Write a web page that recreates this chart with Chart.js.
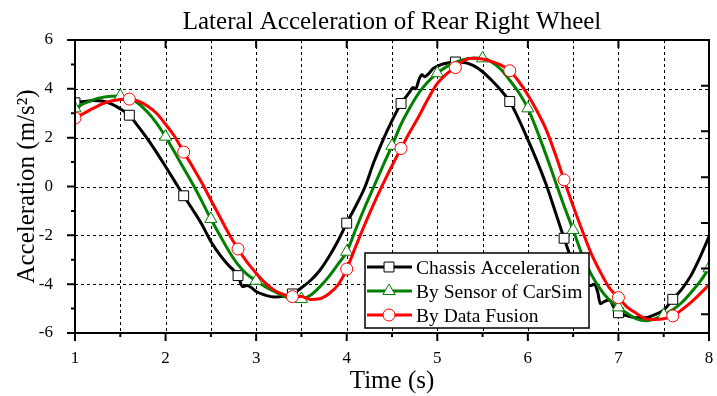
<!DOCTYPE html>
<html lang="en">
<head>
    <meta charset="UTF-8">
    <title>Lateral Acceleration of Rear Right Wheel</title>
    <script src="https://cdn.jsdelivr.net/npm/chart.js"></script>
    <style>
        html, body { margin: 0; padding: 0; background: #fff; }
    </style>
</head>
<body>
    <canvas id="accChart" width="717" height="396"></canvas>

    <script>
        // Chassis acceleration (black, squares)
        const chassisTime = [1.0, 1.1, 1.2, 1.3, 1.4, 1.5, 1.6, 1.7, 1.8, 1.9, 2.0, 2.1, 2.2, 2.3, 2.4, 2.5, 2.6, 2.7, 2.8,
            2.85, 2.9, 2.95, 3.0, 3.1, 3.2, 3.3, 3.4, 3.5, 3.6, 3.7, 3.8, 3.9, 4.0, 4.1, 4.2, 4.3, 4.4, 4.5, 4.6,
            4.65, 4.7, 4.73, 4.76, 4.8, 4.83, 4.86, 4.9, 4.95, 5.0, 5.05, 5.1, 5.2, 5.3, 5.4, 5.5, 5.6, 5.7, 5.8,
            5.9, 6.0, 6.1, 6.2, 6.3, 6.4, 6.5, 6.6, 6.65, 6.7, 6.73, 6.77, 6.8, 6.85, 6.9, 6.95, 7.0, 7.1, 7.2,
            7.3, 7.4, 7.5, 7.6, 7.7, 7.8, 7.9, 8.0];
        const chassisAcc = [3.43, 3.48, 3.52, 3.5, 3.38, 3.18, 2.92, 2.45, 1.95, 1.4, 0.82, 0.22, -0.38, -0.95, -1.55, -2.25, -2.8, -3.25, -3.65,
            -4.1, -4.05, -4.15, -4.3, -4.45, -4.53, -4.5, -4.4, -4.15, -3.85, -3.45, -2.9, -2.25, -1.5, -0.8, -0.03, 1.0, 1.9, 2.7, 3.4,
            3.65, 3.9, 4.05, 4.0, 4.4, 4.58, 4.5, 4.6, 4.82, 4.92, 5.0, 5.05, 5.1, 5.08, 4.95, 4.7, 4.35, 3.95, 3.48,
            2.75, 1.92, 1.05, 0.1, -1.0, -2.12, -3.15, -3.85, -4.05, -4.05, -4.0, -4.3, -4.8, -4.7, -4.65, -4.95, -5.17, -5.3, -5.38,
            -5.38, -5.25, -5.06, -4.62, -4.2, -3.65, -2.9, -2.05];
        const chassisMarks = [1.0, 1.6, 2.2, 2.8, 3.4, 4.0, 4.6, 5.2, 5.8, 6.4, 7.0, 7.6];

        // By sensor of CarSim (green, triangles)
        const sensorTime = [1.0, 1.1, 1.2, 1.3, 1.4, 1.5, 1.6, 1.7, 1.8, 1.9, 2.0, 2.1, 2.2, 2.3, 2.4, 2.5, 2.6, 2.7, 2.8, 2.9,
            3.0, 3.1, 3.2, 3.3, 3.4, 3.5, 3.6, 3.7, 3.8, 3.9, 4.0, 4.1, 4.2, 4.3, 4.4, 4.5, 4.6, 4.7, 4.8, 4.9,
            5.0, 5.1, 5.2, 5.3, 5.4, 5.5, 5.6, 5.7, 5.8, 5.9, 6.0, 6.1, 6.2, 6.3, 6.4, 6.5, 6.6, 6.7, 6.8, 6.9,
            7.0, 7.1, 7.2, 7.3, 7.4, 7.5, 7.6, 7.7, 7.8, 7.9, 8.0];
        const sensorAcc = [3.2, 3.4, 3.55, 3.65, 3.7, 3.71, 3.62, 3.4, 3.05, 2.6,
            2.04, 1.4, 0.75, 0.1, -0.6, -1.33, -2.0, -2.65, -3.2, -3.6,
            -3.86, -4.1, -4.3, -4.48, -4.6, -4.61, -4.45, -4.12, -3.7, -3.2,
            -2.67, -1.75, -0.85, 0.0, 0.85, 1.67, 2.55, 3.25, 3.85, 4.3,
            4.64, 4.9, 5.08, 5.2, 5.26, 5.25, 5.1, 4.8, 4.35, 3.85,
            3.2, 2.3, 1.3, 0.25, -0.8, -1.78, -2.8, -3.6, -4.2, -4.65,
            -4.95, -5.2, -5.42, -5.5, -5.42, -5.26, -5.05, -4.75, -4.35, -3.9, -3.35];
        const sensorMarks = [1.0, 1.5, 2.0, 2.5, 3.0, 3.5, 4.0, 4.5, 5.0, 5.5, 6.0, 6.5, 7.0, 7.5, 8.0];

        // By data fusion (red, circles)
        const fusionTime = sensorTime;
        const fusionAcc = [2.8, 3.0, 3.2, 3.38, 3.5, 3.56, 3.58, 3.5, 3.3, 3.0,
            2.55, 2.05, 1.41, 0.8, 0.15, -0.55, -1.25, -1.95, -2.56, -3.1,
            -3.55, -3.95, -4.25, -4.42, -4.51, -4.5, -4.63, -4.6, -4.4, -4.05,
            -3.38, -2.45, -1.55, -0.7, 0.1, 0.85, 1.56, 2.25, 2.9, 3.6,
            4.22, 4.6, 4.87, 5.18, 5.25, 5.22, 5.12, 4.98, 4.74, 4.3,
            3.75, 3.1, 2.35, 1.36, 0.27, -0.8, -1.8, -2.75, -3.5, -4.15,
            -4.55, -4.95, -5.2, -5.42, -5.45, -5.42, -5.3, -5.05, -4.75, -4.4, -4.03];
        const fusionMarks = [1.0, 1.6, 2.2, 2.8, 3.4, 4.0, 4.6, 5.2, 5.8, 6.4, 7.0, 7.6];

        // Axis decoration values
        const xMajor = [1, 2, 3, 4, 5, 6, 7, 8];
        const xMinor = [1.5, 2.5, 3.5, 4.5, 5.5, 6.5, 7.5];
        const xGrid = [1.5, 2, 2.5, 3, 3.5, 4, 4.5, 5, 5.5, 6, 6.5, 7, 7.5];
        const yMajor = [-6, -4, -2, 0, 2, 4, 6];
        const yMinor = [-5, -3, -1, 1, 3, 5];
        const yGrid = [-4, -2, 0, 2, 4];
        const yRight = [4.13, 2.26, 0.38, -1.49, -3.36, -5.23];

        const serif = 'Liberation Serif';

        function toPoints(ts, vs) {
            return ts.map((t, i) => ({ x: t, y: vs[i] }));
        }

        function markerRadius(marks, r) {
            return ctx => {
                const p = ctx.raw;
                return p && marks.some(m => Math.abs(m - p.x) < 1e-6) ? r : 0;
            };
        }

        const series = [
            { label: 'Chassis Acceleration', color: '#000000', style: 'rect', r: 7, time: chassisTime, acc: chassisAcc, marks: chassisMarks, order: 3 },
            { label: 'By Sensor of CarSim', color: '#008000', style: 'triangle', r: 7, time: sensorTime, acc: sensorAcc, marks: sensorMarks, order: 2 },
            { label: 'By Data Fusion', color: '#ff0000', style: 'circle', r: 6, time: fusionTime, acc: fusionAcc, marks: fusionMarks, order: 1 }
        ];

        // Dashed grid, frame, tick marks, title and legend
        const decorations = {
            id: 'decorations',
            beforeDatasetsDraw(chart) {
                const { ctx, chartArea: a, scales: { x, y } } = chart;
                ctx.save();
                ctx.strokeStyle = '#000';
                ctx.lineWidth = 1;
                ctx.setLineDash([3, 3]);
                ctx.beginPath();
                xGrid.forEach(v => {
                    const px = Math.round(x.getPixelForValue(v)) + 0.5;
                    ctx.moveTo(px, a.top);
                    ctx.lineTo(px, a.bottom);
                });
                yGrid.forEach(v => {
                    const py = Math.round(y.getPixelForValue(v)) + 0.5;
                    ctx.moveTo(a.left, py);
                    ctx.lineTo(a.right, py);
                });
                ctx.stroke();
                ctx.restore();
            },
            afterDatasetsDraw(chart) {
                const { ctx, chartArea: a, scales: { x, y } } = chart;
                ctx.save();
                ctx.strokeStyle = '#000';
                ctx.lineWidth = 2;
                ctx.beginPath();
                ctx.rect(a.left, a.top, a.right - a.left, a.bottom - a.top);
                // left: outward ticks
                yMajor.forEach(v => { const py = y.getPixelForValue(v); ctx.moveTo(a.left - 8, py); ctx.lineTo(a.left, py); });
                yMinor.forEach(v => { const py = y.getPixelForValue(v); ctx.moveTo(a.left - 4, py); ctx.lineTo(a.left, py); });
                // bottom: outward ticks
                xMajor.forEach(v => { const px = x.getPixelForValue(v); ctx.moveTo(px, a.bottom); ctx.lineTo(px, a.bottom + 8); });
                xMinor.forEach(v => { const px = x.getPixelForValue(v); ctx.moveTo(px, a.bottom); ctx.lineTo(px, a.bottom + 4); });
                // top and right: inward ticks
                xMajor.forEach(v => { const px = x.getPixelForValue(v); ctx.moveTo(px, a.top); ctx.lineTo(px, a.top + 8); });
                yRight.forEach(v => { const py = y.getPixelForValue(v); ctx.moveTo(a.right, py); ctx.lineTo(a.right - 8, py); });
                ctx.stroke();
                ctx.restore();
            },
            afterDraw(chart) {
                const { ctx, chartArea: a } = chart;
                ctx.save();
                // title
                ctx.fillStyle = '#000';
                ctx.font = '25px "' + serif + '"';
                ctx.textAlign = 'center';
                ctx.textBaseline = 'alphabetic';
                ctx.fillText('Lateral Acceleration of Rear Right Wheel', (a.left + a.right) / 2, 29);

                // legend box
                const bx = 365, by = 253, bw = 224, bh = 75;
                ctx.fillStyle = '#fff';
                ctx.fillRect(bx, by, bw, bh);
                ctx.strokeStyle = '#000';
                ctx.lineWidth = 1.5;
                ctx.strokeRect(bx, by, bw, bh);
                ctx.font = '19.5px "' + serif + '"';
                ctx.textAlign = 'left';
                series.forEach((s, i) => {
                    const cy = 267 + i * 24;
                    ctx.strokeStyle = s.color;
                    ctx.lineWidth = 3;
                    ctx.beginPath();
                    ctx.moveTo(bx + 2, cy);
                    ctx.lineTo(bx + 47, cy);
                    ctx.stroke();
                    ctx.lineWidth = 1;
                    ctx.fillStyle = '#fff';
                    Chart.helpers.drawPoint(ctx, { pointStyle: s.style, radius: s.r, borderWidth: 1 }, bx + 24, cy);
                    ctx.fillStyle = '#000';
                    ctx.fillText(s.label, bx + 51, cy + 6.5);
                });
                ctx.restore();
            }
        };

        const accCtx = document.getElementById('accChart').getContext('2d');
        const accChart = new Chart(accCtx, {
            type: 'line',
            data: {
                datasets: series.map(s => ({
                    label: s.label,
                    data: toPoints(s.time, s.acc),
                    borderColor: s.color,
                    backgroundColor: '#ffffff',
                    borderWidth: 3,
                    pointStyle: s.style,
                    pointRadius: markerRadius(s.marks, s.r),
                    pointBorderColor: s.color,
                    pointBackgroundColor: '#ffffff',
                    pointBorderWidth: 1,
                    cubicInterpolationMode: 'monotone',
                    fill: false,
                    order: s.order
                }))
            },
            options: {
                responsive: false,
                animation: false,
                devicePixelRatio: 1,
                layout: { padding: { top: 40, right: 2, left: 0, bottom: 0 } },
                plugins: {
                    legend: { display: false },
                    title: { display: false },
                    tooltip: { enabled: false }
                },
                scales: {
                    x: {
                        type: 'linear',
                        min: 1,
                        max: 8,
                        grid: { display: false },
                        border: { display: false },
                        ticks: {
                            stepSize: 1,
                            autoSkip: false,
                            maxRotation: 0,
                            padding: 7,
                            color: '#000',
                            font: { family: serif, size: 17 }
                        },
                        title: {
                            display: true,
                            text: 'Time (s)',
                            color: '#000',
                            font: { family: serif, size: 25 },
                            padding: { top: 0, bottom: 0 }
                        },
                        afterFit(scale) {
                            scale.height = 63;
                            scale.paddingLeft = 0;
                            scale.paddingRight = 0;
                        }
                    },
                    y: {
                        min: -6,
                        max: 6,
                        grid: { display: false },
                        border: { display: false },
                        ticks: {
                            stepSize: 2,
                            padding: 14,
                            color: '#000',
                            font: { family: serif, size: 17 }
                        },
                        title: {
                            display: true,
                            text: 'Acceleration (m/s²)',
                            color: '#000',
                            font: { family: serif, size: 25 },
                            padding: { top: 12, bottom: 0 }
                        },
                        afterFit(scale) {
                            scale.width = 75;
                            scale.paddingTop = 0;
                            scale.paddingBottom = 0;
                        }
                    }
                }
            },
            plugins: [decorations]
        });
    </script>
</body>
</html>
